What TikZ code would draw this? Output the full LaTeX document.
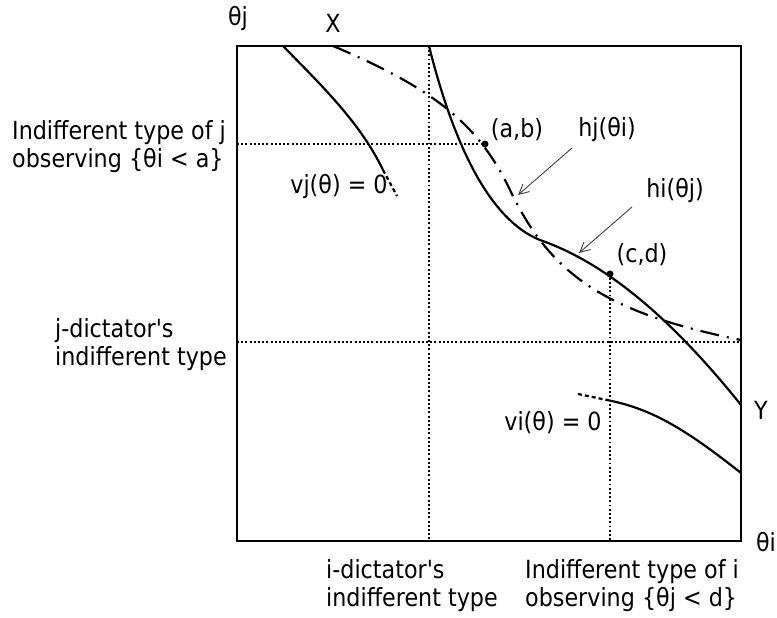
\documentclass[tikz,border=0pt]{standalone}
\usepackage{fontspec}
\newfontfamily\lblfont{DejaVu Sans}[FakeStretch=0.89]
\usetikzlibrary{arrows.meta}
\begin{document}
\begin{tikzpicture}[x=1pt,y=-1pt,
  lbl/.style={font=\lblfont\fontsize{25}{28}\selectfont, inner sep=0pt, align=left},
  frame/.style={line width=2.2pt},
  curve/.style={line width=2.2pt},
  guide/.style={line width=1.9pt, dash pattern=on 1.9pt off 2.3pt},
  dashdot/.style={line width=2.2pt, dash pattern=on 19pt off 8pt on 2pt off 8pt},
  tail/.style={line width=2.2pt, dash pattern=on 4pt off 3pt},
  pointer/.style={line width=0.9pt, draw=black!75, -{Straight Barb[length=10pt,width=10pt]}},
  dotpt/.style={circle, fill=black, inner sep=0pt, minimum size=7pt}]
\useasboundingbox (0,0) rectangle (777,618);
% frame corners
\coordinate (TL) at (237,46);
\coordinate (BR) at (741,541);
% guide lines
\node[dotpt] (ab) at (485,144) {};
\node[dotpt] (cd) at (610,274) {};
\draw[guide] (237,144) -- (ab);
\draw[guide] (429,46) -- (429,541);
\draw[guide] (237,342) -- (741,342);
\draw[guide] (cd) -- (610,541);
\draw[frame] (TL) rectangle (BR);
% vj curve
\draw[curve] (283,46) .. controls (320,84) and (360,122) .. (383,170);
\draw[tail] (383,170) -- (397,196);
% hi curve
\draw[curve] (429,46) .. controls (454,146) and (490,220) .. (540,240)
                      .. controls (603,262) and (668,314) .. (741,405);
% hj curve
\draw[dashdot] (333,46) .. controls (435,89) and (479,125) .. (510,190)
                        .. controls (551,276) and (607,313) .. (741,340);
% vi curve
\draw[tail] (578,394) -- (607,400);
\draw[curve] (607,400) .. controls (650,408.5) and (683,427) .. (741,473);
% labels
\node[lbl] (thj) at (238,19) {θj};
\node[lbl] (X) at (333,23) {X};
\node[lbl, anchor=west] (indj) at (12,147) {Indifferent type of j\\observing \{θi < a\}};
\node[lbl] (vj) at (339,187) {vj(θ) = 0};
\node[lbl] (abl) at (517,130) {(a,b)};
\node[lbl] (hj) at (607,130) {hj(θi)};
\node[lbl] (hi) at (675,191) {hi(θj)};
\node[lbl] (cdl) at (642,255) {(c,d)};
\node[lbl, anchor=west] (jdict) at (55,345) {j-dictator's\\indifferent type};
\node[lbl] (Y) at (761,410) {Y};
\node[lbl] (vi) at (553,423) {vi(θ) = 0};
\node[lbl] (thi) at (766,542) {θi};
\node[lbl, anchor=west] (idict) at (326,586) {i-dictator's\\indifferent type};
\node[lbl, anchor=west] (indi) at (525,586) {Indifferent type of i\\observing \{θj < d\}};
% pointers
\coordinate (hjtip) at (518,195);
\coordinate (hitip) at (579,253);
\draw[pointer] (572,148) -- (hjtip);
\draw[pointer] (632,207) -- (hitip);
\end{tikzpicture}
\end{document}
